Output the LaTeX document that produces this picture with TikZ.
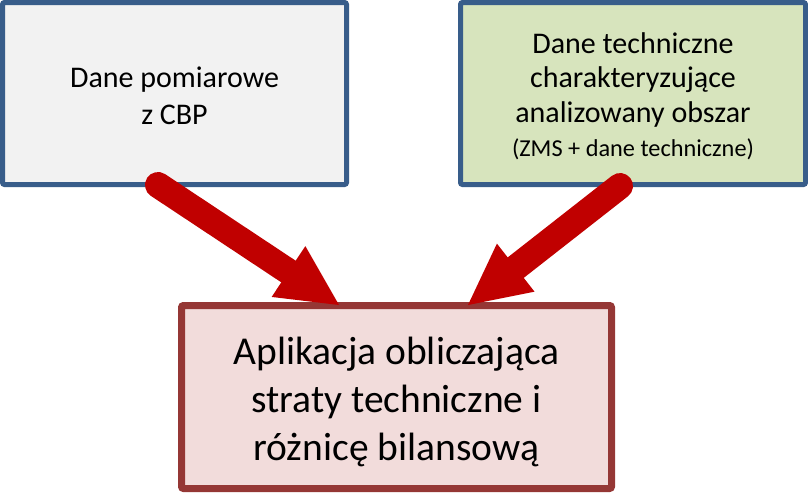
\documentclass[tikz,border=0pt]{standalone}
\usepackage{fontspec}
\setmainfont{Carlito}
\usetikzlibrary{arrows.meta}
\definecolor{boxblue}{RGB}{56,93,138}
\definecolor{greyfill}{RGB}{242,242,242}
\definecolor{greenfill}{RGB}{215,228,189}
\definecolor{redborder}{RGB}{149,55,53}
\definecolor{pinkfill}{RGB}{242,220,219}
\definecolor{arrowred}{RGB}{192,0,0}
\tikzset{
  topbox/.style={draw=boxblue, line width=5pt, rounded corners=2pt, inner sep=0pt, minimum height=182pt},
  appbox/.style={draw=redborder, fill=pinkfill, line width=7pt, rounded corners=2pt,
    inner sep=0pt, minimum width=430pt, minimum height=183pt},
  boxtext/.style={align=center, inner sep=0pt},
  bigarrow/.style={draw=arrowred, line width=26pt, line cap=round,
    -{Triangle[length=60.6pt, width=61pt, line width=0pt]}}
}
\begin{document}
\begin{tikzpicture}[x=1pt, y=-1pt]
\useasboundingbox (0,0) rectangle (808,493);
\node[topbox, fill=greyfill, minimum width=344pt] (meas) at (174.5,93.5) {};
\node[topbox, fill=greenfill, minimum width=345pt] (tech) at (633,93.5) {};
\node[appbox] (app) at (396.5,397) {};
\node[boxtext, font=\fontsize{30}{37.5}\selectfont] (measT) at ([yshift=-2.5pt]meas.center)
  {Dane pomiarowe\\z CBP};
\node[boxtext, font=\fontsize{30}{34.5}\selectfont] (techT) at ([yshift=-3pt]tech.center)
  {Dane techniczne\\charakteryzujące\\analizowany obszar\\{\fontsize{24.3}{35.5}\selectfont (ZMS + dane techniczne)}};
\node[boxtext, font=\fontsize{39.5}{48}\selectfont] (appT) at ([yshift=-5pt]app.center)
  {Aplikacja obliczająca\\straty techniczne i\\różnicę bilansową};
\coordinate (t1) at (158,185);
\coordinate (h1) at (339,305);
\coordinate (t2) at (620,186);
\coordinate (h2) at (468,305);
\draw[bigarrow] (t1) -- (h1);
\draw[bigarrow] (t2) -- (h2);
\end{tikzpicture}
\end{document}
